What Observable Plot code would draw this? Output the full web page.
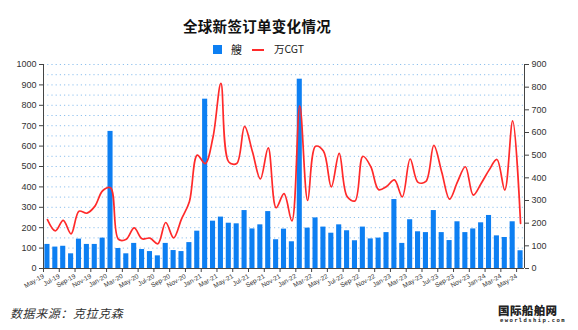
<!DOCTYPE html>
<html><head><meta charset="utf-8">
<script src="https://cdn.jsdelivr.net/npm/d3@7"></script>
<script src="https://cdn.jsdelivr.net/npm/@observablehq/plot@0.6"></script>
<style>
body{margin:0;background:#fff;}
#wrap{position:relative;width:578px;height:330px;overflow:hidden;font-family:"Noto Sans CJK SC","Liberation Sans",sans-serif;}
#title{position:absolute;left:0;width:514px;top:16px;text-align:center;font-size:14.5px;font-weight:bold;color:#111;line-height:20px;letter-spacing:0.3px;}
.lg{position:absolute;}
#chart{position:absolute;left:0;top:0;}
#src{position:absolute;left:10px;top:305px;font-size:12px;font-style:italic;color:#333;line-height:16px;letter-spacing:0.6px;}
#wm1{position:absolute;left:498px;top:304px;font-size:11.5px;font-weight:900;color:#222;letter-spacing:0.4px;line-height:13px;}
#wm2{position:absolute;left:500px;top:317px;font-size:5.5px;font-weight:bold;color:#222;letter-spacing:1.4px;font-family:"DejaVu Sans Mono",monospace;line-height:7px;}
</style>
</head><body>
<div id="wrap">
  <div id="chart"></div>
  <div id="title">全球新签订单变化情况</div>
  <div class="lg" style="left:213px;top:45px;width:9px;height:9px;background:#0d7ff2;"></div>
  <div class="lg" style="left:231px;top:41px;font-size:11px;line-height:16px;color:#222;">艘</div>
  <div class="lg" style="left:252px;top:48.5px;width:12px;height:2px;background:#ff2a2a;"></div>
  <div class="lg" style="left:274px;top:41px;font-size:10.5px;line-height:16px;color:#222;">万CGT</div>
  <div id="src">数据来源：克拉克森</div>
  <div id="wm1">国际船舶网</div>
  <div id="wm2">eworldship.com</div>
</div>
<script>
const months = ["May-19","Jun-19","Jul-19","Aug-19","Sep-19","Oct-19","Nov-19","Dec-19",
"Jan-20","Feb-20","Mar-20","Apr-20","May-20","Jun-20","Jul-20","Aug-20","Sep-20","Oct-20","Nov-20","Dec-20",
"Jan-21","Feb-21","Mar-21","Apr-21","May-21","Jun-21","Jul-21","Aug-21","Sep-21","Oct-21","Nov-21","Dec-21",
"Jan-22","Feb-22","Mar-22","Apr-22","May-22","Jun-22","Jul-22","Aug-22","Sep-22","Oct-22","Nov-22","Dec-22",
"Jan-23","Feb-23","Mar-23","Apr-23","May-23","Jun-23","Jul-23","Aug-23","Sep-23","Oct-23","Nov-23","Dec-23",
"Jan-24","Feb-24","Mar-24","Apr-24","May-24"];
const ships = [118,105,109,72,144,118,118,149,
672,98,72,123,93,83,62,123,88,83,127,183,
830,232,252,222,219,284,194,214,279,141,193,131,
928,198,248,203,173,214,185,136,203,145,149,176,
338,123,239,180,176,284,176,137,229,176,194,224,
260,160,152,229,87];
const cgt = [216,166,212,153,253,244,274,343,
356,129,129,179,131,134,109,203,135,218,295,500,
463,580,817,470,463,627,515,395,532,268,330,210,
718,300,539,518,360,508,318,298,495,450,348,362,
391,316,483,380,384,543,426,306,382,449,324,375,
434,481,346,651,199];
const leftTicks = [0,100,200,300,400,500,600,700,800,900,1000];
const rightTicks = [0,100,200,300,400,500,600,700,800,900];
const gridVals = [50,100,150,200,250,300,350,400,450,500,550,600,650,700,750,800,850,900,950,1000];
const xTickIdx = months.map((m,i)=>i).filter(i=>i%2===0);

const k = 1000/900;
const data = months.map((m,i)=>({i, m, ships: ships[i], cgt: cgt[i]}));

const chart = Plot.plot({
  width:578, height:300, marginTop:64, marginBottom:32, marginLeft:43, marginRight:54,
  x:{domain:[0, months.length], axis:null},
  y:{domain:[0,1000], axis:null},
  style:{fontFamily:"'Liberation Sans', Arial, sans-serif", background:"transparent", color:"#333"},
  marks:[
    Plot.ruleY(gridVals,{stroke:"#8fc1ee", strokeDasharray:"1.2,3", strokeWidth:1}),
    Plot.rectY(data,{x1:"i", x2:d=>d.i+1, y:"ships", fill:"#0d7ff2", insetLeft:1.4, insetRight:1.4}),
    Plot.lineY(data,{x:d=>d.i+0.5, y:d=>d.cgt*k, stroke:"#ff2a2a", strokeWidth:1.7, curve:"catmull-rom"}),
    Plot.ruleX([0],{stroke:"#444"}),
    Plot.ruleX([months.length],{stroke:"#444"}),
    Plot.ruleY([0],{stroke:"#444"}),
    Plot.axisY({anchor:"left", ticks:leftTicks, tickFormat:v=>String(v), tickSize:4, tickPadding:3, fontSize:9, label:null, stroke:"#444"}),
    Plot.axisY({anchor:"right", ticks:rightTicks.map(v=>v*k), tickFormat:v=>String(Math.round(v/k)), tickSize:4, tickPadding:3, fontSize:9, label:null, stroke:"#444"}),
    Plot.axisX({ticks:xTickIdx, tickFormat:i=>months[i], tickRotate:-30, tickSize:4, tickPadding:3, fontSize:6.5, label:null, stroke:"#444"})
  ]
});
document.getElementById("chart").appendChild(chart);
</script>
</body></html>
